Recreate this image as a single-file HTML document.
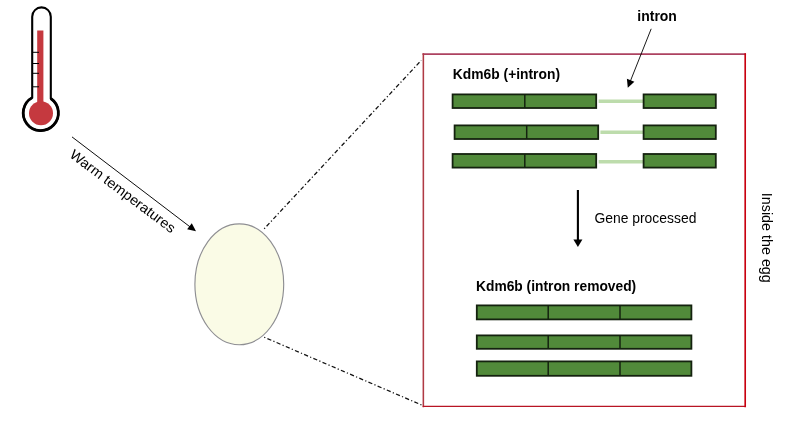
<!DOCTYPE html>
<html>
<head>
<meta charset="utf-8">
<title>Kdm6b intron diagram</title>
<style>
html,body{margin:0;padding:0;background:#fff;}
body{width:796px;height:438px;overflow:hidden;}
svg{display:block;will-change:transform;opacity:0.999;}
text{font-family:"Liberation Sans",sans-serif;fill:#000;}
.b{font-weight:bold;}
.bar{fill:#518a3a;stroke:#14220f;stroke-width:1.8;}
.div{stroke:#14220f;stroke-width:1.5;}
.intr{stroke:#bddcac;stroke-width:3.4;}
</style>
</head>
<body>
<svg width="796" height="438" viewBox="0 0 796 438">
<rect width="796" height="438" fill="#fff"/>

<!-- thermometer -->
<g>
<path d="M32.2 97.64 V16.7 A9.3 9.3 0 0 1 50.8 16.7 V98.52 A17.6 17.6 0 1 1 32.2 97.64 Z" fill="#fff" stroke="#000" stroke-width="2.1"/>
<path d="M50.8 98.52 A17.6 17.6 0 1 1 32.2 97.64" fill="none" stroke="#000" stroke-width="2.8"/>
<rect x="37.2" y="30.5" width="6.2" height="75" fill="#c5393f"/>
<circle cx="41" cy="113.2" r="12" fill="#c5393f"/>
<g stroke="#000" stroke-width="1">
<line x1="33" y1="52.3" x2="39" y2="52.3"/>
<line x1="33" y1="63.5" x2="39" y2="63.5"/>
<line x1="33" y1="73.3" x2="39" y2="73.3"/>
<line x1="33" y1="86.8" x2="39" y2="86.8"/>
</g>
</g>

<!-- warm arrow -->
<line x1="72" y1="136.9" x2="191" y2="227.6" stroke="#000" stroke-width="0.95"/>
<polygon points="196,231.3 187.1,229.3 191.8,223.2" fill="#000"/>
<text transform="translate(68.8,156.5) rotate(37)" font-size="14" textLength="128" lengthAdjust="spacingAndGlyphs">Warm temperatures</text>

<!-- egg -->
<ellipse cx="239.3" cy="284.3" rx="44.4" ry="60.4" fill="#fafbe6" stroke="#8e8e92" stroke-width="1.15"/>

<!-- dashed -->
<line x1="264.2" y1="228.8" x2="421.2" y2="60.4" stroke="#111" stroke-width="1.25" stroke-dasharray="1.2 2.3 4.2 2.3"/>
<line x1="264.2" y1="337.2" x2="423" y2="405.6" stroke="#111" stroke-width="1.25" stroke-dasharray="1.2 2.3 4.2 2.3"/>

<!-- red box -->
<g fill="none" stroke-width="1.6" stroke-linecap="square">
<line x1="423.35" y1="54.05" x2="745.2" y2="54.05" stroke="#ad4260" stroke-width="1.7"/>
<line x1="423.35" y1="54.05" x2="423.35" y2="406.4" stroke="#b03a44" stroke-width="1.55"/>
<line x1="423.35" y1="406.4" x2="745.2" y2="406.4" stroke="#b81424" stroke-width="1.25"/>
<line x1="745.2" y1="54.05" x2="745.2" y2="406.4" stroke="#c8000f" stroke-width="1.65"/>
</g>

<!-- intron label -->
<text class="b" x="637.3" y="21.2" font-size="14.2" textLength="39.6" lengthAdjust="spacingAndGlyphs">intron</text>
<line x1="651.2" y1="28.8" x2="630" y2="82" stroke="#000" stroke-width="0.9"/>
<polygon points="627.8,87.7 626.9,78.8 634.4,81.7" fill="#000"/>

<!-- top group -->
<text class="b" x="452.8" y="79.1" font-size="14.2" textLength="107.2" lengthAdjust="spacingAndGlyphs">Kdm6b (+intron)</text>

<g>
<line class="intr" x1="598.6" y1="101.2" x2="644" y2="101.2"/>
<rect class="bar" x="452.6" y="94.4" width="143.6" height="13.6"/>
<line class="div" x1="524.8" y1="94.4" x2="524.8" y2="108"/>
<rect class="bar" x="643.6" y="94.4" width="72.2" height="13.6"/>
</g>
<g>
<line class="intr" x1="600.4" y1="132.2" x2="644" y2="132.2"/>
<rect class="bar" x="454.6" y="125.4" width="143.6" height="13.6"/>
<line class="div" x1="526.7" y1="125.4" x2="526.7" y2="139"/>
<rect class="bar" x="643.6" y="125.4" width="72.2" height="13.6"/>
</g>
<g>
<line class="intr" x1="598.6" y1="161.7" x2="644" y2="161.7"/>
<rect class="bar" x="452.6" y="154" width="143.6" height="13.6"/>
<line class="div" x1="524.8" y1="154" x2="524.8" y2="167.6"/>
<rect class="bar" x="643.6" y="154" width="72.2" height="13.6"/>
</g>

<!-- vertical arrow -->
<line x1="577.9" y1="190" x2="577.9" y2="240.5" stroke="#000" stroke-width="2.1"/>
<polygon points="577.9,247 573.4,239.5 582.4,239.5" fill="#000"/>
<text x="594.4" y="223" font-size="14.2" textLength="102" lengthAdjust="spacingAndGlyphs">Gene processed</text>

<!-- inside the egg -->
<text transform="translate(762,192.8) rotate(90)" font-size="14.2" textLength="90" lengthAdjust="spacingAndGlyphs">Inside the egg</text>

<!-- bottom group -->
<text class="b" x="476" y="291.2" font-size="14.2" textLength="160.2" lengthAdjust="spacingAndGlyphs">Kdm6b (intron removed)</text>
<g>
<rect class="bar" x="476.8" y="305.4" width="214.6" height="14"/>
<line class="div" x1="548.2" y1="305.4" x2="548.2" y2="319.4"/>
<line class="div" x1="620" y1="305.4" x2="620" y2="319.4"/>
</g>
<g>
<rect class="bar" x="476.8" y="335.4" width="214.6" height="13.4"/>
<line class="div" x1="548.2" y1="335.4" x2="548.2" y2="348.8"/>
<line class="div" x1="620" y1="335.4" x2="620" y2="348.8"/>
</g>
<g>
<rect class="bar" x="476.8" y="361.4" width="214.6" height="14.4"/>
<line class="div" x1="548.2" y1="361.4" x2="548.2" y2="375.8"/>
<line class="div" x1="620" y1="361.4" x2="620" y2="375.8"/>
</g>
</svg>
</body>
</html>
